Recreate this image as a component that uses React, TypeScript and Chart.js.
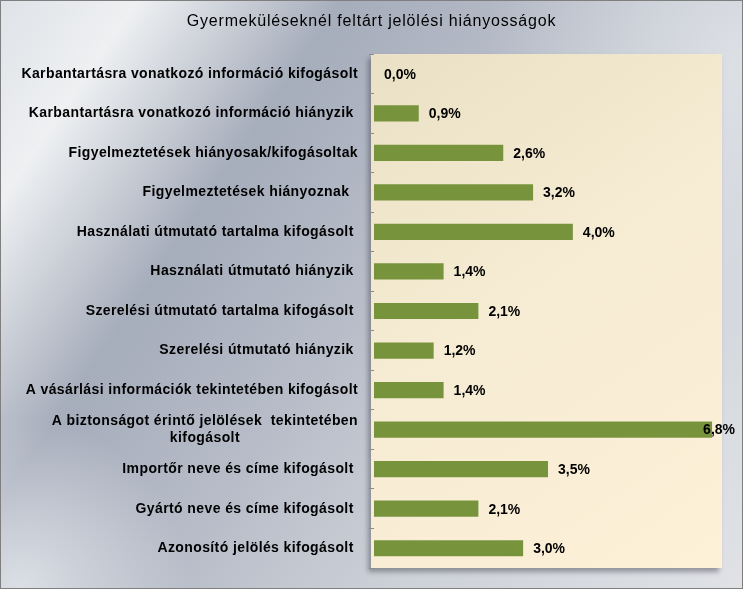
import React, { useEffect, useRef } from "react";
import { Chart, registerables } from "chart.js";

Chart.register(...registerables);

const TITLE = "Gyermeküléseknél feltárt jelölési hiányosságok";

const categories: (string | string[])[] = [
  "Karbantartásra vonatkozó információ kifogásolt",
  "Karbantartásra vonatkozó információ hiányzik ",
  "Figyelmeztetések hiányosak/kifogásoltak",
  "Figyelmeztetések hiányoznak  ",
  "Használati útmutató tartalma kifogásolt ",
  "Használati útmutató hiányzik ",
  "Szerelési útmutató tartalma kifogásolt ",
  "Szerelési útmutató hiányzik ",
  "A vásárlási információk tekintetében kifogásolt",
  ["A biztonságot érintő jelölések  tekintetében", "kifogásolt"],
  "Importőr neve és címe kifogásolt ",
  "Gyártó neve és címe kifogásolt ",
  "Azonosító jelölés kifogásolt ",
];

const values: number[] = [0.0, 0.9, 2.6, 3.2, 4.0, 1.4, 2.1, 1.2, 1.4, 6.8, 3.5, 2.1, 3.0];

const X_MAX = 7;

const fmt = (v: number) => v.toFixed(1).replace(".", ",") + "%";

const backgroundPlugin = {
  id: "bgPlugin",
  beforeDraw(chart: any) {
    const { ctx, width, height, chartArea } = chart;
    ctx.save();
    // outer metallic gradient
    const len = 946;
    const nx = 0.826, ny = 0.564;
    const g = ctx.createLinearGradient(0, 0, nx * len, ny * len);
    g.addColorStop(0, "#dfe2e7");
    g.addColorStop(0.12, "#eef0f2");
    g.addColorStop(0.3, "#a6adbb");
    g.addColorStop(0.45, "#b3b9c5");
    g.addColorStop(0.7, "#cdd1d8");
    g.addColorStop(1, "#e0e2e6");
    ctx.fillStyle = g;
    ctx.fillRect(0, 0, width, height);
    const rg = ctx.createRadialGradient(20, height, 0, 20, height, 170);
    rg.addColorStop(0, "rgba(228,231,236,0.85)");
    rg.addColorStop(1, "rgba(228,231,236,0)");
    ctx.fillStyle = rg;
    ctx.fillRect(0, 0, width, height);
    const rg2 = ctx.createRadialGradient(width, 60, 0, width, 60, 260);
    rg2.addColorStop(0, "rgba(232,234,238,0.6)");
    rg2.addColorStop(1, "rgba(232,234,238,0)");
    ctx.fillStyle = rg2;
    ctx.fillRect(0, 0, width, height);
    // border
    ctx.strokeStyle = "#7f7f7f";
    ctx.lineWidth = 1;
    ctx.strokeRect(0.5, 0.5, width - 1, height - 1);
    // title
    ctx.fillStyle = "#000";
    ctx.font = "16px 'Liberation Sans', Arial, sans-serif";
    (ctx as any).letterSpacing = "0.8px";
    ctx.textAlign = "center";
    ctx.textBaseline = "middle";
    ctx.fillText(TITLE, width / 2, 22);
    (ctx as any).letterSpacing = "0px";
    // plot area with shadow
    const pl = chartArea.left - 3;
    const pt = chartArea.top;
    const pw = chartArea.right - pl;
    const ph = chartArea.bottom - pt;
    ctx.shadowColor = "rgba(60,60,70,0.45)";
    ctx.shadowOffsetX = -3;
    ctx.shadowOffsetY = 4;
    ctx.shadowBlur = 5;
    const pg = ctx.createLinearGradient(pl, pt, pl + pw, pt + ph);
    pg.addColorStop(0, "#eae0c5");
    pg.addColorStop(0.45, "#f6ecd3");
    pg.addColorStop(1, "#fdf1d8");
    ctx.fillStyle = pg;
    ctx.fillRect(pl, pt, pw, ph);
    ctx.restore();
  },
  afterDatasetsDraw(chart: any) {
    const { ctx, width } = chart;
    const meta = chart.getDatasetMeta(0);
    ctx.save();
    ctx.font = "bold 14px 'Liberation Sans', Arial, sans-serif";
    ctx.fillStyle = "#000";
    ctx.textAlign = "left";
    ctx.textBaseline = "middle";
    meta.data.forEach((bar: any, i: number) => {
      const txt = fmt(values[i]);
      const w = ctx.measureText(txt).width;
      const x = Math.min(bar.x + 10, width - 8 - w);
      ctx.fillText(txt, x, bar.y + 1);
    });
    ctx.restore();
  },
  afterDraw(chart: any) {
    const { ctx } = chart;
    const y = chart.scales.y;
    const right = chart.chartArea.left - 16;
    ctx.save();
    ctx.font = "bold 14px 'Liberation Sans', Arial, sans-serif";
    (ctx as any).letterSpacing = "0.4px";
    ctx.fillStyle = "#000";
    ctx.textBaseline = "middle";
    categories.forEach((lab, i) => {
      const py = y.getPixelForValue(i);
      if (Array.isArray(lab)) {
        const widths = lab.map((l) => ctx.measureText(l).width);
        const maxW = Math.max(...widths);
        const cx = right - maxW / 2;
        ctx.textAlign = "center";
        const lh = 17;
        const start = py - ((lab.length - 1) * lh) / 2;
        lab.forEach((l, j) => ctx.fillText(l, cx, start + j * lh));
      } else {
        ctx.textAlign = "right";
        ctx.fillText(lab, right, py);
      }
    });
    ctx.restore();
  },
};

export default function App() {
  const ref = useRef<HTMLCanvasElement | null>(null);
  useEffect(() => {
    if (!ref.current) return;
    const chart = new Chart(ref.current, {
      type: "bar",
      data: {
        labels: categories.map((c) => (Array.isArray(c) ? c.join(" ") : c.trim())),
        datasets: [
          {
            data: values,
            backgroundColor: "#77933c",
            borderWidth: 0,
            barPercentage: 0.41,
            categoryPercentage: 1,
          },
        ],
      },
      options: {
        indexAxis: "y",
        responsive: false,
        animation: false,
        layout: { padding: { top: 54, right: 21, bottom: 21, left: 0 } },
        plugins: {
          legend: { display: false },
          title: { display: false },
          tooltip: { enabled: false },
        },
        scales: {
          x: {
            display: false,
            min: 0,
            max: X_MAX,
          },
          y: {
            offset: true,
            ticks: { display: false },
            grid: {
              display: true,
              offset: true,
              drawOnChartArea: false,
              drawTicks: true,
              tickLength: 5,
              color: "#8c8c8c",
            },
            border: { display: false },
            afterFit: (scale: any) => {
              scale.width = 374;
            },
          },
        },
      },
      plugins: [backgroundPlugin],
    });
    return () => chart.destroy();
  }, []);
  return (
    <div style={{ position: "absolute", left: 0, top: 0, width: 743, height: 589 }}>
      <canvas ref={ref} width={743} height={589} style={{ display: "block" }} />
    </div>
  );
}
